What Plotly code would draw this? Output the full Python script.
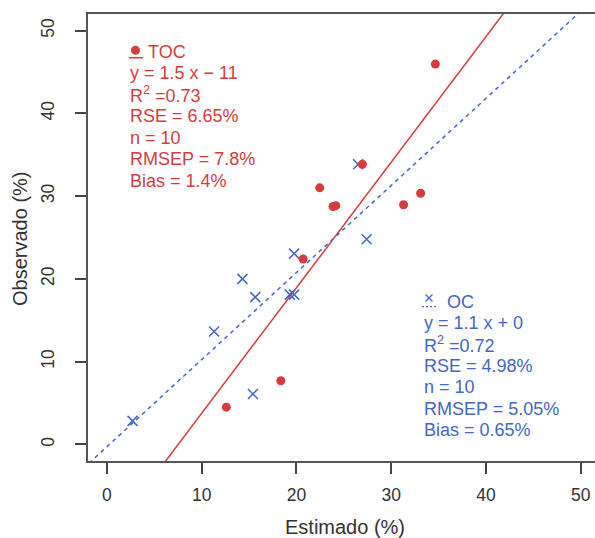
import numpy as np
import plotly.graph_objects as go

# TOC: estimated vs observed (%)
toc_est = [12.6, 18.35, 20.7, 22.45, 23.85, 24.15, 26.95, 31.3, 33.1, 34.65]
toc_obs = [4.5, 7.7, 22.4, 31.0, 28.75, 28.85, 33.85, 28.95, 30.35, 45.95]

# OC: estimated vs observed (%)
oc_est = [2.7, 11.3, 14.3, 15.4, 15.65, 19.3, 19.75, 19.75, 26.5, 27.4]
oc_obs = [2.85, 13.65, 20.0, 6.1, 17.8, 18.1, 18.1, 23.05, 33.85, 24.8]

toc_stats = ["y = 1.5 x \u2212 11", "R<sup>2</sup> =0.73", "RSE = 6.65%", "n = 10",
             "RMSEP = 7.8%", "Bias = 1.4%"]
oc_stats = ["y = 1.1 x + 0", "R<sup>2</sup> =0.72", "RSE = 4.98%", "n = 10",
            "RMSEP = 5.05%", "Bias = 0.65%"]

tick_vals = [0, 10, 20, 30, 40, 50]

RED = "#d53d3d"
BLUE = "#4566c4"
FONT = "Liberation Sans, Arial, sans-serif"

W, H = 595, 538
ML, MR, MT, MB = 88, 0, 14, 77
PW, PH = W - ML - MR, H - MT - MB


def px(x):
    return (x - ML) / PW


def py(y):
    return (H - MB - y) / PH


fig = go.Figure()

# least-squares fit lines
x_line = np.array([-5.0, 60.0])
for est, obs, color, dash in [(toc_est, toc_obs, RED, "solid"),
                              (oc_est, oc_obs, BLUE, "4px,4px")]:
    slope, icpt = np.polyfit(est, obs, 1)
    fig.add_trace(go.Scatter(x=x_line, y=slope * x_line + icpt, mode="lines",
                             line=dict(color=color, width=1.5, dash=dash),
                             hoverinfo="skip", showlegend=False))

fig.add_trace(go.Scatter(x=oc_est, y=oc_obs, mode="markers", name="OC",
                         marker=dict(symbol="x-thin-open", size=10, color=BLUE,
                                     line=dict(color=BLUE, width=1.5)),
                         showlegend=False))
fig.add_trace(go.Scatter(x=toc_est, y=toc_obs, mode="markers", name="TOC",
                         marker=dict(symbol="circle", size=9, color=RED),
                         showlegend=False))

annotations = []
shapes = []


def text(x, y, s, color, size=18, **kw):
    annotations.append(dict(x=px(x), y=py(y), xref="paper", yref="paper",
                            text=s, showarrow=False, xanchor="left",
                            yanchor="middle", font=dict(family=FONT, size=size,
                                                        color=color), **kw))


# TOC key and statistics
shapes.append(dict(type="circle", xref="paper", yref="paper",
                   x0=px(131), x1=px(140), y0=py(54.8), y1=py(45.8),
                   fillcolor=RED, line=dict(width=0)))
shapes.append(dict(type="line", xref="paper", yref="paper",
                   x0=px(129), x1=px(143), y0=py(57.7), y1=py(57.7),
                   line=dict(color=RED, width=1.5)))
text(146, 51.7, "TOC", RED)
for i, s in enumerate(toc_stats):
    text(128, 73.3 + 21.5 * i, s, RED)

# OC key and statistics
for a, b in [((425.5, 294.5), (432.5, 301.5)), ((425.5, 301.5), (432.5, 294.5))]:
    shapes.append(dict(type="line", xref="paper", yref="paper",
                       x0=px(a[0]), y0=py(a[1]), x1=px(b[0]), y1=py(b[1]),
                       line=dict(color=BLUE, width=1.2)))
shapes.append(dict(type="line", xref="paper", yref="paper",
                   x0=px(422), x1=px(438), y0=py(306.7), y1=py(306.7),
                   line=dict(color=BLUE, width=1.2, dash="2px,2px")))
text(445, 301.7, "OC", BLUE)
for i, s in enumerate(oc_stats):
    text(422, 322.5 + 21.5 * i, s, BLUE)

# axis titles
annotations.append(dict(x=px(344.7), y=py(527), xref="paper", yref="paper",
                        text="Estimado (%)", showarrow=False, xanchor="center",
                        yanchor="middle",
                        font=dict(family=FONT, size=20, color="#333333")))
annotations.append(dict(x=px(20), y=py(239), xref="paper", yref="paper",
                        text="Observado (%)", showarrow=False, textangle=-90,
                        xanchor="center", yanchor="middle",
                        font=dict(family=FONT, size=20, color="#333333")))

axis_common = dict(showgrid=False, zeroline=False, showline=True,
                   linecolor="#555555", linewidth=1.5, ticks="outside",
                   ticklen=11, tickwidth=1.5, tickcolor="#444444",
                   tickvals=tick_vals, tickfont=dict(family=FONT, size=17.5,
                                                     color="#333333"))

fig.update_layout(
    width=W, height=H,
    margin=dict(l=ML, r=MR, t=MT, b=MB),
    paper_bgcolor="white", plot_bgcolor="white",
    xaxis=dict(range=[-2, 51.5], mirror=True, ticklabelstandoff=6,
               **axis_common),
    yaxis=dict(range=[-2, 52], tickangle=-90, ticklabelstandoff=14,
               **axis_common),
    annotations=annotations, shapes=shapes,
)

fig.write_html("out.html")
